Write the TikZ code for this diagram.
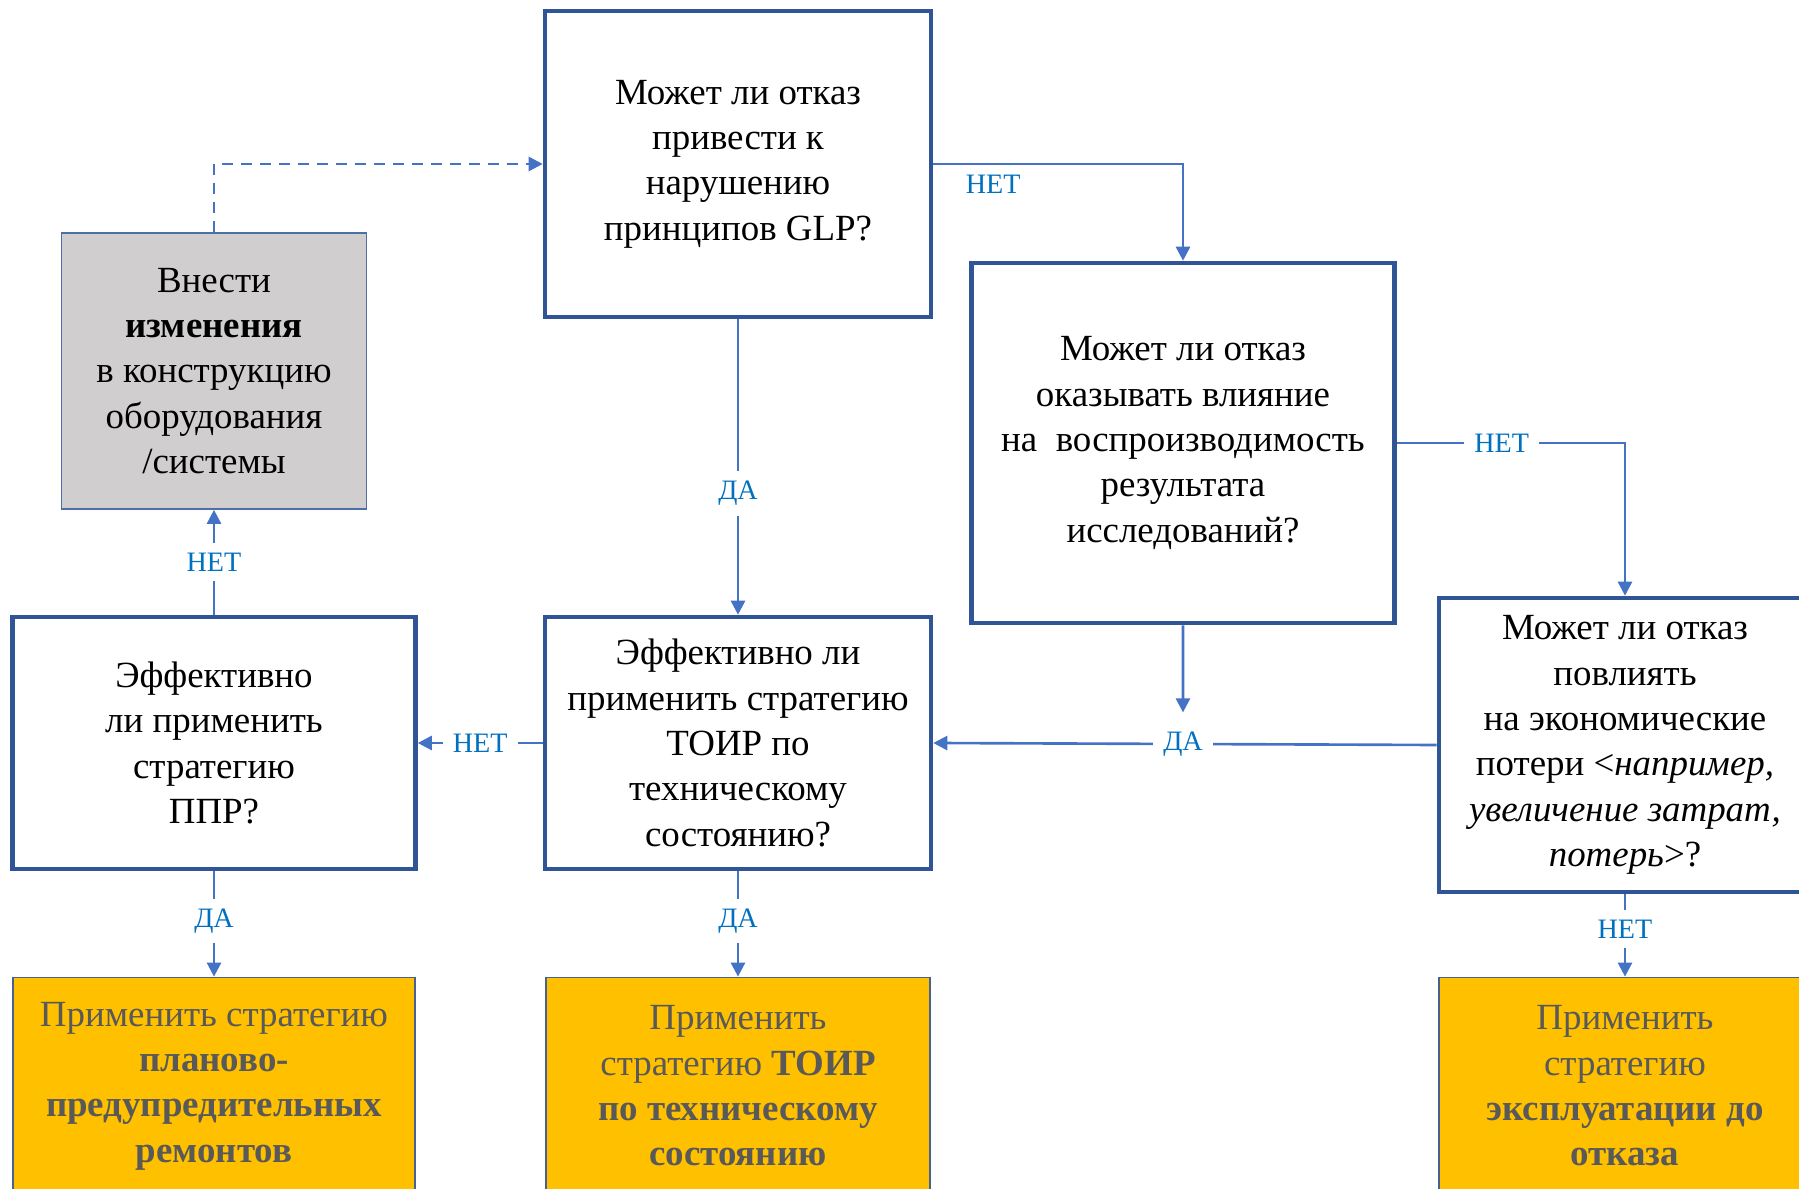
\documentclass[tikz,border=0pt]{standalone}
\usepackage{fontspec}
\setmainfont{Liberation Serif}
\usetikzlibrary{arrows.meta,positioning,calc}
\definecolor{cDec} {HTML}{2F5597}
\definecolor{cLine}{HTML}{4472C4}
\definecolor{cLbl} {HTML}{0070C0}
\definecolor{cChg} {HTML}{D0CECE}
\definecolor{cAct} {HTML}{FFC000}
\definecolor{cActT}{HTML}{595959}
\tikzset{
  blk/.style  ={draw=cDec,fill=white,align=center,inner sep=3pt,
                font=\fontsize{10.5}{12.9}\selectfont},
  dec/.style  ={blk,line width=1.3pt},
  chg/.style  ={blk,draw=cDec!85,fill=cChg,line width=0.5pt},
  act/.style  ={blk,draw=cDec!70!gray,fill=cAct,text=cActT,line width=0.5pt},
  sig/.style  ={-{Triangle[length=1.4mm,width=1.4mm]},draw=cLine,line width=0.75pt},
  fbk/.style  ={sig,dash pattern=on 1.1mm off 0.8mm},
  lbl/.style  ={font=\fontsize{8}{9.6}\selectfont,text=cLbl,fill=white,inner sep=1mm},
}

\begin{document}
\begin{tikzpicture}[x=0.1mm, y=-0.1mm]
\clip (0,0) rectangle (1799,1189);

% decision boxes
\node[dec,minimum width=38.6mm,minimum height=30.6mm] (glp) at (738,164)
  {Может ли отказ\\привести к\\нарушению\\принципов GLP?};
\node[dec,minimum width=42.3mm,minimum height=36mm] (repro) at (1183,443)
  {Может ли отказ\\оказывать влияние\\на\ \ воспроизводимость\\результата\\исследований?};
\node[dec,minimum width=38.6mm,minimum height=25.2mm] (toir) at (738,743)
  {Эффективно ли\\применить стратегию\\ТОИР по\\техническому\\состоянию?};
\node[dec,minimum width=40.3mm,minimum height=25.2mm] (ppr) at (214,743)
  {Эффективно\\ли применить\\стратегию\\ППР?};
\node[dec,minimum width=37.2mm,minimum height=29.4mm] (econ) at (1625,745)
  {Может ли отказ\\повлиять\\на экономические\\потери <\textit{например,}\\
   \textit{увеличение затрат,}\\\textit{потерь}>?};

\node[chg,minimum width=30.5mm,minimum height=27.6mm] (chg) at (214,371)
  {Внести\\\textbf{изменения}\\в конструкцию\\оборудования\\/системы};

% resulting strategies
\node[act,minimum width=40.2mm,minimum height=21.7mm] (actPpr) at (214,1086)
  {Применить стратегию\\\textbf{планово-}\\\textbf{предупредительных}\\\textbf{ремонтов}};
\node[act,minimum width=38.4mm,minimum height=21.7mm] (actToir) at (738,1086)
  {Применить\\стратегию \textbf{ТОИР}\\\textbf{по техническому}\\\textbf{состоянию}};
\node[act,minimum width=37.2mm,minimum height=21.7mm] (actRun) at (1625,1086)
  {Применить\\стратегию\\\textbf{эксплуатации до}\\\textbf{отказа}};

% connectors
\draw[fbk] (chg.north) |- (glp.west);
\draw[sig] (glp.east) -| node[lbl,below,pos=0.12]{НЕТ} (repro.north);
\draw[sig] (glp.south) -- node[lbl,pos=0.59]{ДА} (toir.north);
\draw[sig] (repro.east) -| node[lbl,pos=0.23]{НЕТ} (econ.north);
\draw[sig] (econ.west) -- node[lbl,pos=0.504] (daEcon) {ДА} (toir.east);
\draw[sig] (repro.south) -- ([yshift=0.8mm]daEcon.north);
\draw[sig] (toir.west) -- node[lbl]{НЕТ} (ppr.east);
\draw[sig] (ppr.north) -- node[lbl]{НЕТ} (chg.south);
\draw[sig] (ppr.south) -- node[lbl,pos=0.47]{ДА} (actPpr.north);
\draw[sig] (toir.south) -- node[lbl,pos=0.47]{ДА} (actToir.north);
\draw[sig] (econ.south) -- node[lbl,pos=0.42]{НЕТ} (actRun.north);
\end{tikzpicture}
\end{document}
